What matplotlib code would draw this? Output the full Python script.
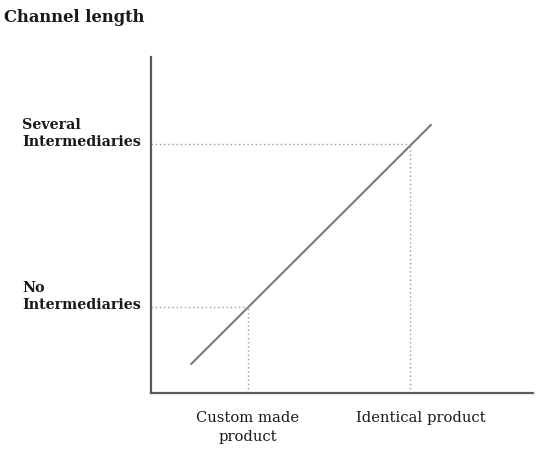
"""Channel length versus product standardisation sketch."""

import matplotlib

matplotlib.use("Agg")

import matplotlib.pyplot as plt

# product types on the horizontal axis and their positions
product_labels = ["Custom made\nproduct", "Identical product"]
product_x = [2.54, 6.78]
# channel length levels on the vertical axis
level_labels = ["No\nIntermediaries", "Several\nIntermediaries"]
level_y = [2.57, 7.42]
# relation line end points
line_x = [1.05, 7.33]
line_y = [0.86, 7.98]

SERIF = ["DejaVu Serif", "Liberation Serif"]

fig = plt.figure(figsize=(5.38, 4.56), dpi=100)
ax = fig.add_axes([151 / 538, 1 - 394 / 456, (533 - 151) / 538, (394 - 58) / 456])
ax.set_xlim(0, 10)
ax.set_ylim(0, 10)

ax.plot(line_x, line_y, color="#7a7a7a", lw=1.5, solid_capstyle="round")

for px, py in zip(product_x, level_y):
    ax.plot([px, px], [0, py], color="#9a9a9a", lw=1.0, ls=(0, (1, 2)))
    ax.plot([0, px], [py, py], color="#9a9a9a", lw=1.0, ls=(0, (1, 2)))

for sp in ["top", "right"]:
    ax.spines[sp].set_visible(False)
for sp in ["left", "bottom"]:
    ax.spines[sp].set_color("#5a5a5a")
    ax.spines[sp].set_linewidth(1.6)
ax.set_xticks([])
ax.set_yticks([])

# y labels, left aligned near figure edge, last line sitting on the dotted level
for lab, y in zip(level_labels, level_y):
    ax.annotate(lab, xy=(22 / 538, y), xycoords=("figure fraction", "data"),
                xytext=(0, -3), textcoords="offset points",
                ha="left", va="bottom", fontsize=10.3, fontweight="bold",
                family=SERIF, color="#1a1a1a", linespacing=1.25)

label_centers = [248, 421]
for lab, cx in zip(product_labels, label_centers):
    fig.text(cx / 538, 1 - 411 / 456, lab, ha="center", va="top", fontsize=10.6,
             family=SERIF, color="#1a1a1a", linespacing=1.45)

fig.text(4 / 538, 1 - 18 / 456, "Channel length", ha="left", va="center",
         fontsize=11.8, fontweight="bold", family=SERIF, color="#1a1a1a")

fig.savefig("out.png", dpi=100)
plt.close(fig)
